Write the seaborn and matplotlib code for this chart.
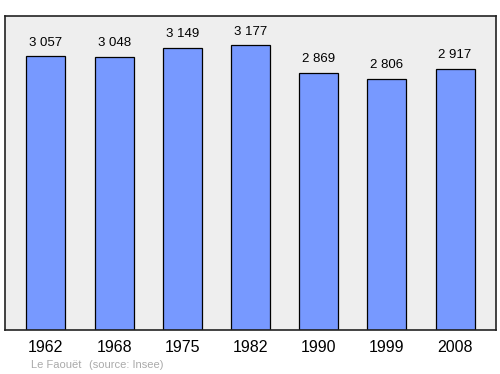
import matplotlib
matplotlib.use("Agg")
import matplotlib.pyplot as plt
import seaborn as sns
import pandas as pd

years = ["1962", "1968", "1975", "1982", "1990", "1999", "2008"]
population = [3057, 3048, 3149, 3177, 2869, 2806, 2917]
labels = ["3 057", "3 048", "3 149", "3 177", "2 869", "2 806", "2 917"]

df = pd.DataFrame({"year": years, "pop": population})

plt.rcParams["font.family"] = ["Liberation Sans", "DejaVu Sans"]

fig = plt.figure(figsize=(5, 3.74), dpi=100)
ax = fig.add_axes([0.01, 0.1176, 0.982, 0.8396])
sns.barplot(data=df, x="year", y="pop", ax=ax, color="#7799ff", saturation=1,
            width=0.57, edgecolor="black", linewidth=0.9)
ax.set_facecolor("#eeeeee")
ax.set_xlim(-0.6, 6.6)
ax.set_ylim(0, 3505)
ax.set_xlabel("")
ax.set_ylabel("")
ax.set_yticks([])
ax.tick_params(axis="x", length=0, labelsize=11.5, pad=7.5)
for s in ax.spines.values():
    s.set_linewidth(1.2)
    s.set_color("#222222")
for i, (v, t) in enumerate(zip(population, labels)):
    ax.annotate(t, (i, v), xytext=(0, 5.5), textcoords="offset points",
                ha="center", va="bottom", fontsize=9.5)
fig.text(0.062, 0.024, "Le Faouët", color="#aaaaaa", fontsize=8, ha="left", va="center")
fig.text(0.178, 0.024, "(source: Insee)", color="#aaaaaa", fontsize=8, ha="left", va="center")
fig.savefig("out.png", dpi=100)
